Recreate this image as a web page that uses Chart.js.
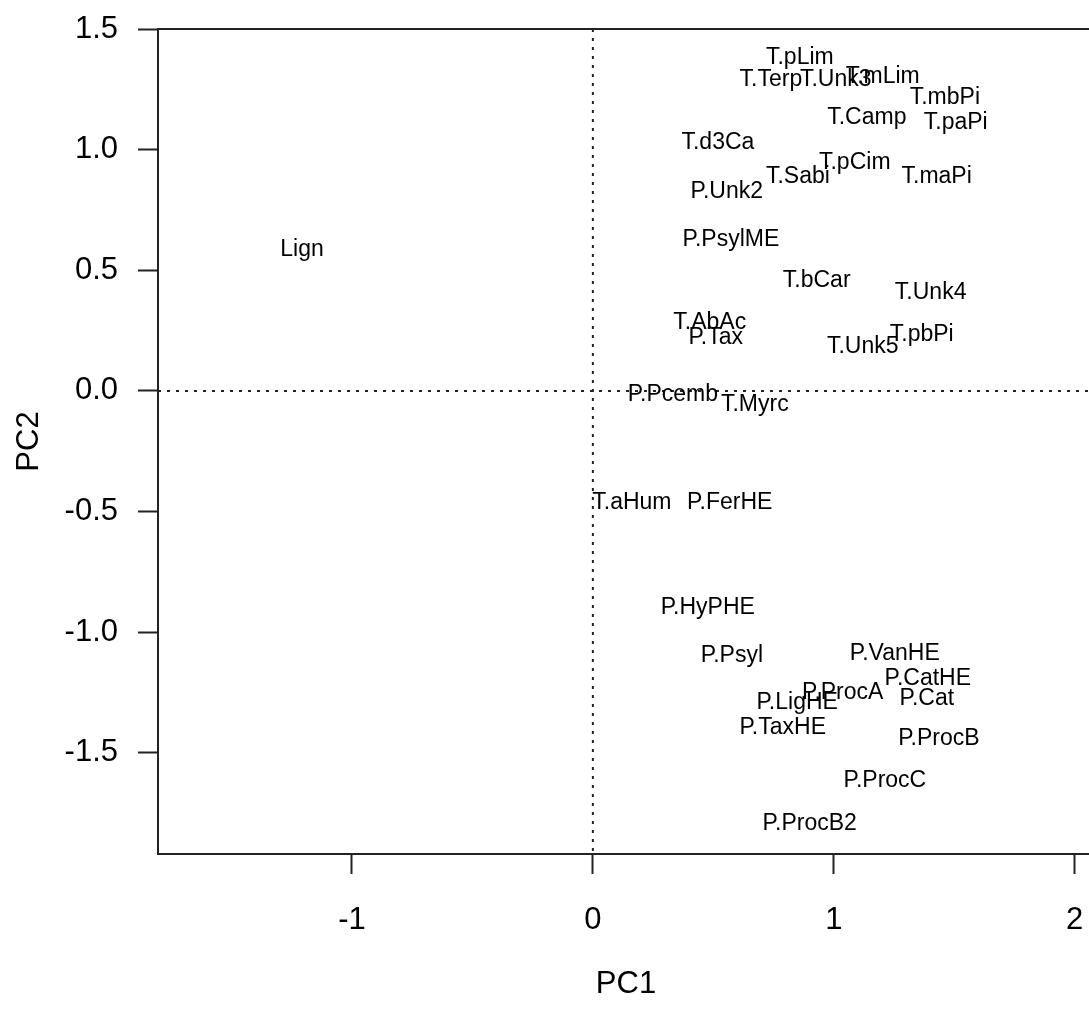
<!DOCTYPE html>
<html>
<head>
<meta charset="utf-8">
<title>PCA loadings</title>
<script src="https://cdn.jsdelivr.net/npm/chart.js@4.4.1/dist/chart.umd.min.js"></script>
<style>
  html, body { margin: 0; padding: 0; background: #fff; overflow: hidden; }
  #wrap { width: 1100px; height: 1010px; }
</style>
</head>
<body>
<div id="wrap"><canvas id="pca" width="1100" height="1010"></canvas></div>
<script>
// variable names and their PC1 / PC2 loadings
const varNames = [
  "Lign", "T.pLim", "T.Terp", "T.Unk3", "T.mLim", "T.mbPi", "T.Camp", "T.paPi",
  "T.d3Ca", "T.pCim", "T.Sabi", "T.maPi", "P.Unk2", "P.PsylME", "T.bCar", "T.Unk4",
  "T.AbAc", "P.Tax", "T.pbPi", "T.Unk5", "P.Pcemb", "T.Myrc", "T.aHum", "P.FerHE",
  "P.HyPHE", "P.Psyl", "P.VanHE", "P.CatHE", "P.ProcA", "P.Cat", "P.LigHE", "P.TaxHE",
  "P.ProcB", "P.ProcC", "P.ProcB2"
];
const pc1 = [
  -1.207, 0.859, 0.739, 1.008, 1.203, 1.461, 1.137, 1.506,
  0.519, 1.087, 0.851, 1.427, 0.556, 0.573, 0.929, 1.402,
  0.485, 0.510, 1.365, 1.120, 0.332, 0.672, 0.162, 0.568,
  0.477, 0.577, 1.253, 1.390, 1.037, 1.386, 0.848, 0.788,
  1.436, 1.212, 0.900
];
const pc2 = [
  0.585, 1.382, 1.290, 1.290, 1.303, 1.216, 1.133, 1.112,
  1.029, 0.946, 0.888, 0.888, 0.826, 0.627, 0.456, 0.407,
  0.282, 0.220, 0.232, 0.183, -0.017, -0.058, -0.461, -0.461,
  -0.900, -1.095, -1.087, -1.191, -1.249, -1.274, -1.290, -1.394,
  -1.440, -1.614, -1.793
];
const xTicks = [-1, 0, 1, 2];
const yTicks = [-1.5, -1.0, -0.5, 0.0, 0.5, 1.0, 1.5];

const FONT = "'Liberation Sans', Arial, Helvetica, sans-serif";
const INK = "#000";

// text labels centred on each loading, dotted zero lines and the frame
const biplotDecor = {
  id: "biplotDecor",
  beforeDatasetsDraw(chart) {
    const { ctx, chartArea: a, scales } = chart;
    const x0 = scales.x.getPixelForValue(0);
    const y0 = scales.y.getPixelForValue(0);
    ctx.save();
    ctx.strokeStyle = "#222";
    ctx.lineWidth = 2;
    ctx.setLineDash([3, 6]);
    ctx.beginPath();
    ctx.moveTo(x0, a.top);
    ctx.lineTo(x0, a.bottom);
    ctx.moveTo(a.left, y0);
    ctx.lineTo(a.right, y0);
    ctx.stroke();
    ctx.restore();
  },
  afterDatasetsDraw(chart) {
    const { ctx } = chart;
    const meta = chart.getDatasetMeta(0);
    ctx.save();
    ctx.fillStyle = INK;
    ctx.font = "23px " + FONT;
    ctx.textAlign = "center";
    ctx.textBaseline = "middle";
    meta.data.forEach((pt, i) => {
      ctx.fillText(varNames[i], pt.x, pt.y);
    });
    ctx.restore();
  },
  afterDraw(chart) {
    const { ctx, chartArea: a } = chart;
    ctx.save();
    ctx.strokeStyle = "#222";
    ctx.lineWidth = 2;
    ctx.strokeRect(a.left, a.top, a.right - a.left, a.bottom - a.top);
    ctx.restore();
  }
};

const axisGrid = {
  drawOnChartArea: false,
  drawTicks: true,
  tickLength: 20,
  tickWidth: 2,
  tickColor: "#222"
};

// keep the plot frame fixed: no extra room for overhanging tick labels
function noOverhang(s) {
  s.paddingTop = 0;
  s.paddingBottom = 0;
  s.paddingLeft = 0;
  s.paddingRight = 0;
}

new Chart(document.getElementById("pca").getContext("2d"), {
  type: "scatter",
  data: {
    datasets: [{
      data: varNames.map((n, i) => ({ x: pc1[i], y: pc2[i] })),
      pointRadius: 0,
      pointHoverRadius: 0
    }]
  },
  options: {
    responsive: false,
    animation: false,
    devicePixelRatio: 1,
    layout: { padding: { top: 29, right: 6, left: 0, bottom: 0 } },
    plugins: { legend: { display: false }, tooltip: { enabled: false } },
    scales: {
      x: {
        type: "linear",
        min: -1.805,
        max: 2.08,
        afterBuildTicks: s => { s.ticks = xTicks.map(v => ({ value: v })); },
        afterFit: s => { s.height = 156; noOverhang(s); },
        grid: axisGrid,
        border: { display: false },
        ticks: {
          color: INK,
          padding: 28,
          maxRotation: 0,
          font: { family: FONT, size: 31 },
          callback: v => String(v)
        },
        title: {
          display: true,
          text: "PC1",
          color: INK,
          padding: 7,
          font: { family: FONT, size: 31 }
        }
      },
      y: {
        type: "linear",
        min: -1.919,
        max: 1.5,
        afterBuildTicks: s => { s.ticks = yTicks.map(v => ({ value: v })); },
        afterFit: s => { s.width = 158; noOverhang(s); },
        grid: axisGrid,
        border: { display: false },
        ticks: {
          color: INK,
          padding: 20,
          font: { family: FONT, size: 31 },
          callback: v => Number(v).toFixed(1)
        },
        title: {
          display: true,
          text: "PC2",
          color: INK,
          padding: 11,
          font: { family: FONT, size: 31 }
        }
      }
    }
  },
  plugins: [biplotDecor]
});
</script>
</body>
</html>
